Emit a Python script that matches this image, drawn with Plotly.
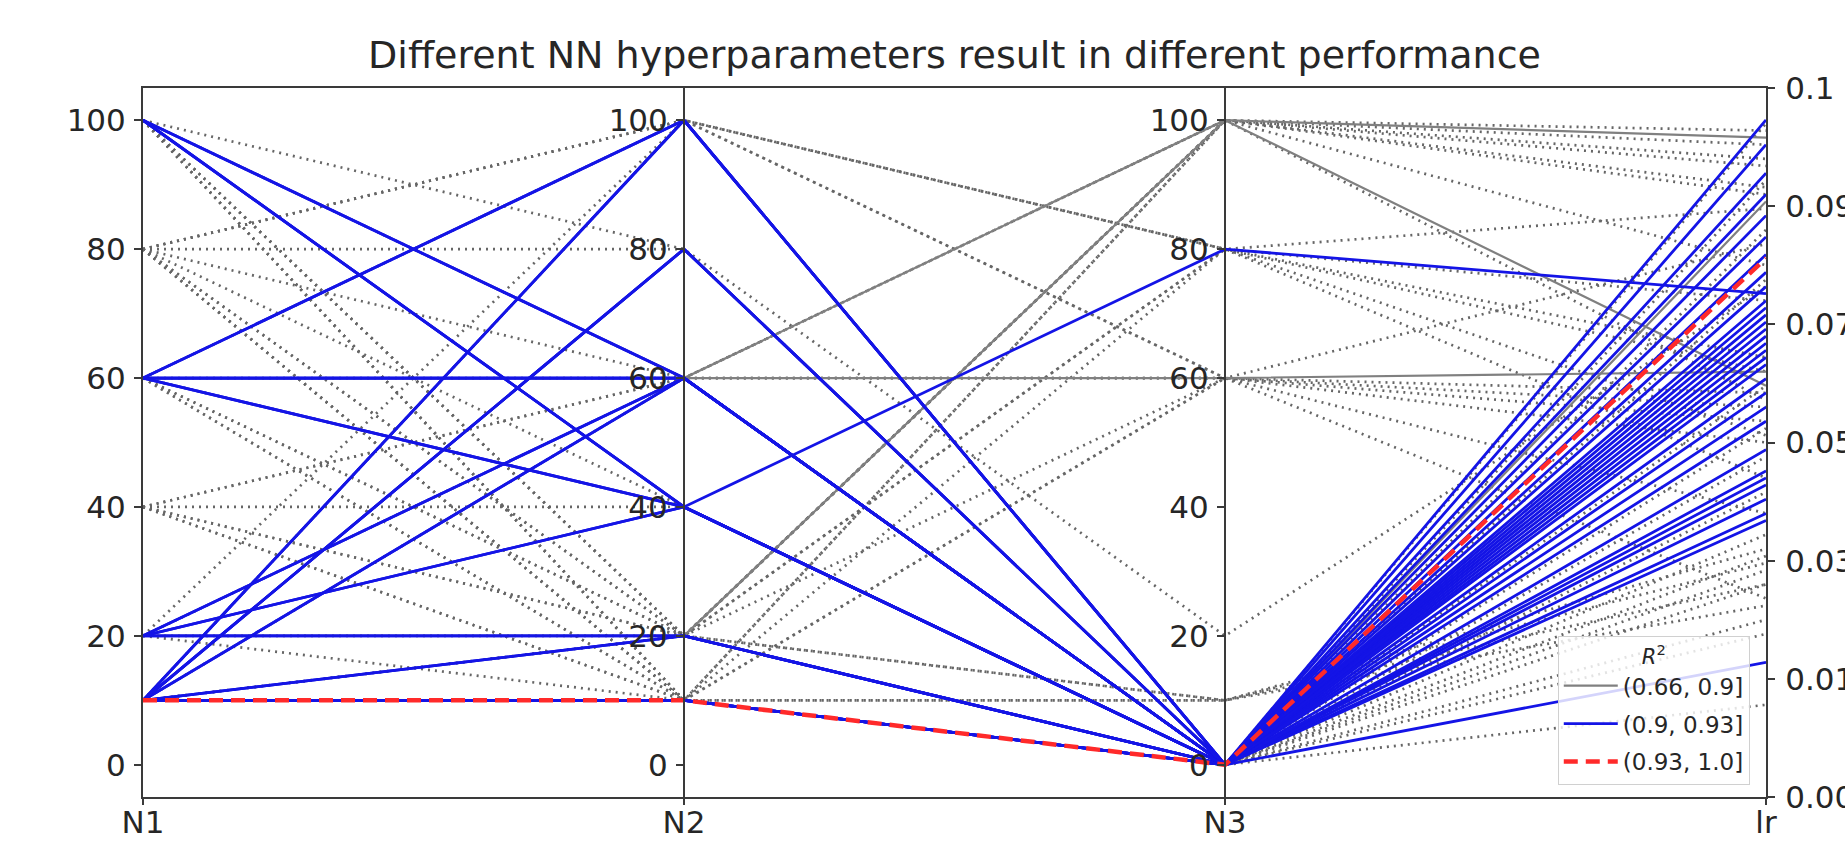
import numpy as np
import plotly.graph_objects as go

# ---------------- data ----------------
AXIS_NAMES = ["N1", "N2", "N3", "lr"]
N_TICKS = [0, 20, 40, 60, 80, 100]
LR_TICK_TEXT = ["0.00", "0.01", "0.03", "0.05", "0.07", "0.09", "0.1"]
LEGEND_LABELS = ["(0.66, 0.9]", "(0.9, 0.93]", "(0.93, 1.0]"]

# lowest R^2 runs (dotted, no legend entry)
low_n1 = [100, 100, 100, 100, 80, 80, 80, 80, 80, 80, 80, 80, 60, 60, 60, 40, 40, 40, 40, 40,
          20, 20, 10, 10, 10, 20, 100, 80, 100, 60, 20, 80, 40, 100, 60, 60, 10, 40, 80, 100, 60]
low_n2 = [80, 20, 10, 10, 100, 100, 80, 60, 40, 20, 10, 10, 20, 10, 10, 60, 60, 20, 10, 10,
          100, 10, 60, 20, 20, 20, 20, 20, 60, 40, 60, 100, 40, 10, 60, 100, 100, 20, 10, 20, 20]
low_n3 = [20, 10, 10, 0, 80, 60, 0, 60, 0, 100, 100, 0, 100, 60, 0, 60, 0, 80, 80, 0,
          80, 60, 100, 60, 0, 0, 100, 0, 0, 0, 0, 0, 0, 100, 100, 60, 80, 10, 10, 100, 80]
low_lr = [0.072, 0.035, 0.030, 0.023, 0.045, 0.057, 0.087, 0.055, 0.052, 0.094, 0.090, 0.034,
          0.085, 0.028, 0.032, 0.050, 0.058, 0.083, 0.062, 0.025, 0.060, 0.040, 0.092, 0.053,
          0.043, 0.013, 0.075, 0.037, 0.073, 0.048, 0.080, 0.095, 0.030, 0.086, 0.056, 0.078,
          0.070, 0.027, 0.033, 0.089, 0.051]

# (0.66, 0.9]
gray_n1 = [60, 20, 60, 10]
gray_n2 = [60, 20, 60, 80]
gray_n3 = [100, 100, 60, 0]
gray_lr = [0.093, 0.058, 0.060, 0.084]

# (0.9, 0.93]
blue_n1 = [10, 10, 10, 10, 10, 10, 10, 20, 20, 10, 10, 20, 20, 60, 60, 60, 100, 100,
           20, 20, 60, 60, 60, 60, 10, 10, 10, 10, 10, 100, 100, 100]
blue_n2 = [10, 10, 10, 10, 10, 20, 20, 20, 20, 60, 60, 60, 60, 60, 60, 60, 60, 60,
           40, 40, 40, 40, 100, 100, 100, 100, 80, 80, 80, 40, 40, 40]
blue_n3 = [0, 0, 0, 0, 0, 0, 0, 0, 0, 0, 0, 0, 0, 0, 0, 0, 0, 0,
           0, 0, 0, 0, 0, 0, 0, 0, 0, 0, 0, 0, 0, 80]
blue_lr = [0.085, 0.066, 0.045, 0.040, 0.019, 0.074, 0.061, 0.069, 0.053, 0.079, 0.049,
           0.0955, 0.063, 0.072, 0.059, 0.0765, 0.067, 0.044, 0.088, 0.057, 0.065, 0.042,
           0.092, 0.062, 0.070, 0.046, 0.082, 0.055, 0.039, 0.068, 0.064, 0.071]

# (0.93, 1.0]
red_n1 = [10]
red_n2 = [10]
red_n3 = [0]
red_lr = [0.076]

# ---------------- scales ----------------
Y_RANGE = [-5, 105]
LR_RANGE = [0.0, 0.1]


def lr_to_y(v):
    f = (v - LR_RANGE[0]) / (LR_RANGE[1] - LR_RANGE[0])
    return Y_RANGE[0] + f * (Y_RANGE[1] - Y_RANGE[0])


def polylines(n1, n2, n3, lr):
    xs, ys = [], []
    for a, b, c, d in zip(n1, n2, n3, lr):
        xs += [0, 1, 2, 3, None]
        ys += [a, b, c, lr_to_y(d), None]
    return xs, ys


FONT = "DejaVu Sans, Liberation Sans, sans-serif"
TXT = "#262626"
SPINE = "#3a3a3a"

fig = go.Figure()

x, y = polylines(low_n1, low_n2, low_n3, low_lr)
fig.add_trace(go.Scatter(x=x, y=y, mode="lines", showlegend=False, hoverinfo="skip",
                         line=dict(color="#666666", width=2.7, dash="2px,5px")))

x, y = polylines(gray_n1, gray_n2, gray_n3, gray_lr)
fig.add_trace(go.Scatter(x=x, y=y, mode="lines", name=LEGEND_LABELS[0], hoverinfo="skip",
                         legendgroup="a", line=dict(color="#808080", width=2.2)))

x, y = polylines(blue_n1, blue_n2, blue_n3, blue_lr)
fig.add_trace(go.Scatter(x=x, y=y, mode="lines", name=LEGEND_LABELS[1], hoverinfo="skip",
                         legendgroup="b", line=dict(color="#1414e6", width=2.8)))

x, y = polylines(red_n1, red_n2, red_n3, red_lr)
fig.add_trace(go.Scatter(x=x, y=y, mode="lines", name=LEGEND_LABELS[2], hoverinfo="skip",
                         legendgroup="c",
                         line=dict(color="#ff2a2a", width=4.5, dash="14px,8px")))

# empty traces so that the extra axes are drawn
for ax in ["y2", "y3", "y4"]:
    fig.add_trace(go.Scatter(x=[None], y=[None], yaxis=ax, showlegend=False, hoverinfo="skip"))

tick_font = dict(family=FONT, size=31, color=TXT)
common_y = dict(range=Y_RANGE, tickvals=N_TICKS, ticks="outside", ticklen=7, tickwidth=1.5,
                tickcolor=SPINE, showline=True, linecolor=SPINE, linewidth=2,
                showgrid=False, zeroline=False, tickfont=tick_font, ticklabelstandoff=2,
                automargin=False)

fig.update_layout(
    width=1845, height=844,
    margin=dict(l=143, r=79, t=88, b=47, autoexpand=False),
    paper_bgcolor="white", plot_bgcolor="white",
    title=dict(text="Different NN hyperparameters result in different performance",
               x=0.5, xref="paper", xanchor="center", y=1 - 55 / 844, yanchor="middle",
               font=dict(family=FONT, size=38, color=TXT), automargin=False),
    xaxis=dict(range=[0, 3], tickvals=[0, 1, 2, 3], ticktext=AXIS_NAMES, ticks="outside",
               ticklen=6, tickwidth=1.5, tickcolor=SPINE, showline=True, mirror=True,
               linecolor=SPINE, linewidth=2, showgrid=False, zeroline=False,
               tickfont=tick_font, ticklabelstandoff=-9, automargin=False),
    yaxis=dict(**common_y),
    yaxis3=dict(**common_y, overlaying="y", anchor="free", position=1 / 3, side="left"),
    yaxis4=dict(**common_y, overlaying="y", anchor="free", position=2 / 3, side="left"),
    yaxis2=dict(range=LR_RANGE, tickvals=list(np.linspace(LR_RANGE[0], LR_RANGE[1], 7)),
                ticktext=LR_TICK_TEXT, overlaying="y", side="right", ticks="outside",
                ticklen=7, tickwidth=1.5, tickcolor=SPINE, showline=True, linecolor=SPINE,
                linewidth=2, showgrid=False, zeroline=False, tickfont=tick_font,
                ticklabelstandoff=4, automargin=False),
    legend=dict(x=0.99, y=0.017, xanchor="right", yanchor="bottom",
                bgcolor="rgba(255,255,255,0.82)", bordercolor="#d0d0d0", borderwidth=1,
                font=dict(family=FONT, size=23, color=TXT), tracegroupgap=5,
                traceorder="grouped", itemwidth=54,
                title=dict(text="<i>R</i><sup>2</sup>", side="top center",
                           font=dict(family=FONT, size=21, color=TXT))),
)

fig.write_html("out.html", config={"displayModeBar": False},
               post_script="document.body.style.margin='0';")
